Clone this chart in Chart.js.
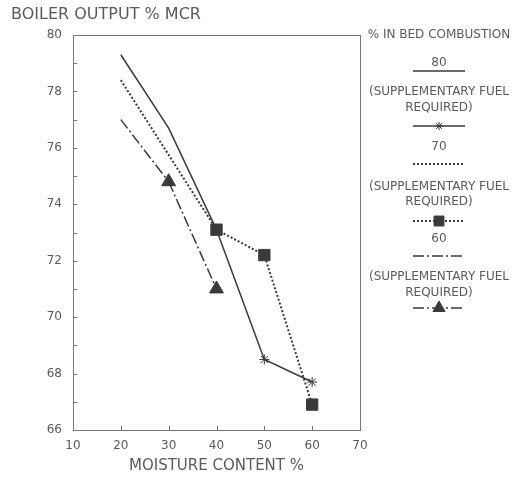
<!DOCTYPE html>
<html>
<head>
<meta charset="utf-8">
<script src="https://cdn.jsdelivr.net/npm/chart.js@4"></script>
<style>
  html, body { margin: 0; padding: 0; background: #fff; }
  #wrap { width: 512px; height: 478px; }
</style>
</head>
<body>
<div id="wrap"><canvas id="chart" width="512" height="478"></canvas></div>
<script>
// moisture content (%) and boiler output (% MCR) per in-bed combustion level
const moisture = [20, 30, 40, 50, 60];
const bed80 = [79.3, 76.7, 73.1, null, null];
const bed80Supp = [null, null, 73.1, 68.5, 67.7];
const bed70 = [78.4, 75.75, 73.1, null, null];
const bed70Supp = [null, null, 73.1, 72.2, 66.9];
const bed60 = [77.0, 74.8, null, null, null];
const bed60Supp = [null, 74.8, 71.0, null, null];

const xTicks = [10, 20, 30, 40, 50, 60, 70];
const yTicks = [66, 68, 70, 72, 74, 76, 78, 80];

const INK = "#3a3a3a";
const TEXT = "#5a5a5a";
const FONT = "'DejaVu Sans', sans-serif";

const DASH_SOLID = [];
const DASH_DOT = [2, 2];
const DASH_CHAIN = [11, 3, 2, 3];

function pts(values) {
    return moisture.map((x, i) => ({ x: x, y: values[i] }));
}

function series(label, values, dash, width, style, radii) {
    return {
        label: label,
        data: pts(values),
        borderColor: INK,
        backgroundColor: INK,
        borderWidth: width,
        borderDash: dash,
        pointStyle: style || "circle",
        pointRadius: radii || 0,
        pointBorderWidth: 1,
        pointBorderColor: INK,
        pointBackgroundColor: INK,
        spanGaps: false,
        tension: 0
    };
}

// frame, inward ticks, titles and the hand-drawn key
const decorations = {
    id: "decorations",
    afterDraw(chart) {
        const { ctx, chartArea: a, scales: { x, y } } = chart;
        ctx.save();
        ctx.strokeStyle = "#777";
        ctx.lineWidth = 1;
        ctx.setLineDash([]);
        ctx.strokeRect(a.left + 0.5, a.top + 0.5, a.right - a.left, a.bottom - a.top);

        ctx.beginPath();
        for (let v = 66; v <= 80; v += 1) {
            const py = Math.round(y.getPixelForValue(v)) + 0.5;
            ctx.moveTo(a.left, py); ctx.lineTo(a.left + 4, py);
        }
        xTicks.forEach(v => {
            const px = Math.round(x.getPixelForValue(v)) + 0.5;
            ctx.moveTo(px, a.bottom); ctx.lineTo(px, a.bottom - 4);
        });
        ctx.stroke();

        ctx.fillStyle = TEXT;
        ctx.font = "16px " + FONT;
        ctx.textBaseline = "middle";
        ctx.textAlign = "left";
        ctx.fillText("BOILER OUTPUT % MCR", 11, 15);
        ctx.textAlign = "center";
        ctx.font = "15px " + FONT;
        ctx.fillText("MOISTURE CONTENT %", (a.left + a.right) / 2, 466);

        // key
        const cx = 439;
        ctx.font = "12px " + FONT;
        const text = (s, ty) => ctx.fillText(s, cx, ty);
        const sample = (ty, dash, width, marker) => {
            ctx.save();
            ctx.strokeStyle = INK;
            ctx.lineWidth = width;
            ctx.setLineDash(dash);
            ctx.beginPath();
            ctx.moveTo(413, ty); ctx.lineTo(465, ty);
            ctx.stroke();
            ctx.restore();
            if (marker) {
                ctx.save();
                ctx.fillStyle = INK;
                ctx.strokeStyle = INK;
                ctx.lineWidth = 1;
                Chart.helpers.drawPoint(ctx, { pointStyle: marker.style, radius: marker.r, borderWidth: 1 }, cx, ty);
                ctx.restore();
            }
        };
        text("% IN BED COMBUSTION", 35);
        text("80", 63);
        sample(71, DASH_SOLID, 1.5);
        text("(SUPPLEMENTARY FUEL", 92);
        text("REQUIRED)", 108);
        sample(126, DASH_SOLID, 1.5, { style: "star", r: 4 });
        text("70", 147);
        sample(164, DASH_DOT, 2);
        text("(SUPPLEMENTARY FUEL", 187);
        text("REQUIRED)", 202);
        sample(221, DASH_DOT, 2, { style: "rect", r: 7 });
        text("60", 239);
        sample(256, DASH_CHAIN, 1.5);
        text("(SUPPLEMENTARY FUEL", 277);
        text("REQUIRED)", 293);
        sample(308, DASH_CHAIN, 1.5, { style: "triangle", r: 7 });
        ctx.restore();
    }
};

new Chart(document.getElementById("chart"), {
    type: "line",
    data: {
        datasets: [
            series("80", bed80, DASH_SOLID, 1.5),
            series("70", bed70, DASH_DOT, 2),
            series("60", bed60, DASH_CHAIN, 1.5),
            series("80 supplementary", bed80Supp, DASH_SOLID, 1.5, "star", [0, 0, 0, 5, 5]),
            series("70 supplementary", bed70Supp, DASH_DOT, 2, "rect", 8),
            series("60 supplementary", bed60Supp, DASH_CHAIN, 1.5, "triangle", [0, 8, 8, 0, 0])
        ]
    },
    options: {
        responsive: false,
        animation: false,
        layout: { padding: { top: 35, right: 152, left: 0, bottom: 0 } },
        plugins: {
            legend: { display: false },
            tooltip: { enabled: false }
        },
        scales: {
            x: {
                type: "linear",
                min: 10,
                max: 70,
                afterFit: s => { s.height = 48; },
                afterBuildTicks: s => { s.ticks = xTicks.map(v => ({ value: v })); },
                grid: { display: false, drawTicks: false },
                border: { display: false },
                ticks: { color: TEXT, font: { family: FONT, size: 12 }, padding: 9, maxRotation: 0 }
            },
            y: {
                type: "linear",
                min: 66,
                max: 80,
                afterFit: s => { s.width = 73; },
                afterBuildTicks: s => { s.ticks = yTicks.map(v => ({ value: v })); },
                grid: { display: false, drawTicks: false },
                border: { display: false },
                ticks: { color: TEXT, font: { family: FONT, size: 12 }, padding: 11 }
            }
        }
    },
    plugins: [decorations]
});
</script>
</body>
</html>
